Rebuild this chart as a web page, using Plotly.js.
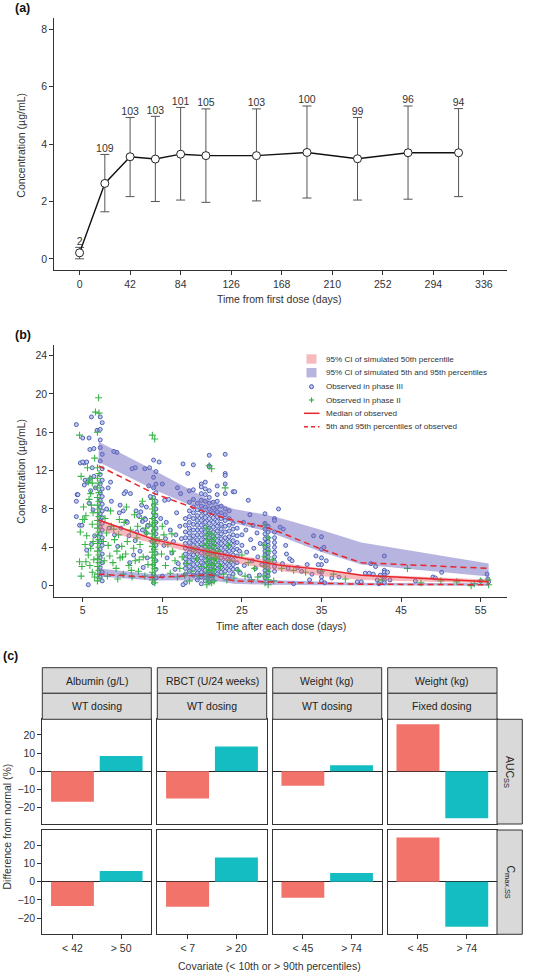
<!DOCTYPE html>
<html><head><meta charset="utf-8">
<script src="https://cdn.plot.ly/plotly-3.0.1.min.js"></script>
<style>html,body{margin:0;padding:0;background:#fff}#chart{width:540px;height:972px}</style>
</head><body><div id="chart"></div>
<script>
// ---------- Panel (a): trough concentration over time ----------
const visitDays = [0,21,42,63,84,105,147,189,231,273,315];
const meanConc  = [0.21,2.63,3.56,3.48,3.65,3.60,3.60,3.71,3.49,3.70,3.70];
const lowerConc = [0.00,1.64,2.17,2.00,2.05,1.97,2.02,2.12,2.05,2.08,2.17];
const upperConc = [0.40,3.64,4.93,4.97,5.28,5.23,5.23,5.33,4.93,5.33,5.24];
const nSubjects = [2,109,103,103,101,105,103,100,99,96,94];
const dayTicksA = [0,42,84,126,168,210,252,294,336];
const concTicksA = [0,2,4,6,8];

// ---------- Panel (b): VPC ----------
const bandDays   = [7,14,21,24,28,30,35,40,56];
const sim95Hi    = [15.0,12.0,8.9,8.0,7.4,7.0,5.8,4.5,2.3];
const sim95Lo    = [12.9,10.0,7.5,6.5,5.7,5.1,3.5,2.2,0.95];
const sim50Hi    = [6.9,5.0,3.8,3.2,2.7,2.4,1.8,1.2,0.65];
const sim50Lo    = [5.8,4.4,3.0,2.4,1.8,1.5,1.0,0.6,0.25];
const sim5Hi     = [1.8,1.2,1.4,0.8,0.6,0.55,0.4,0.3,0.25];
const sim5Lo     = [0.95,0.55,0.6,0.2,0.1,0.08,0.05,0.02,0.0];
const obsMedian  = [6.85,4.8,3.5,3.0,2.4,2.1,1.7,1.1,0.4];
const obsP95     = [12.5,9.6,7.5,6.8,6.1,5.5,3.8,2.4,1.8];
const obsP5      = [1.2,0.85,1.15,0.5,0.4,0.35,0.2,0.15,0.1];
const dayTicksB  = [5,15,25,35,45,55];
const concTicksB = [0,4,8,12,16,20,24];

// observed phase III: vertical sampling columns [day, [concentrations]]
const phase3Columns = [
 [7.2,[17.6,16.3,15.2,14.4,13.0,11.6,10.6,9.7,8.9,8.2,7.5,6.8,6.1,5.4,4.6,3.8,2.9,1.9,0.9]],
 [7.45,[17.0,13.7,12.2,11.0,10.1,9.3,8.5,7.8,7.1,6.5,5.8,5.0,4.2,3.3,2.4,1.4,0.5]],
 [13.9,[13.1,11.3,10.2,9.2,8.4,7.6,7.0,6.3,5.7,5.1,4.5,3.8,3.0,2.2,1.2,0.3]],
 [14.2,[11.9,10.6,9.7,8.8,8.0,7.3,6.6,6.0,5.4,4.8,4.2,3.4,2.6,1.7,0.8]],
 [17.9,[7.0,6.3,5.6,5.0,4.4,3.9,3.3,2.8,2.3,1.8,1.2,0.3]],
 [18.4,[9.9,8.7,7.8,7.2,6.6,6.0,5.5,5.0,4.5,4.0,3.5,3.0,2.5,2.0,1.5]],
 [18.9,[12.6,10.0,9.0,8.2,7.6,7.0,6.4,5.8,5.2,4.7,4.2,3.7,3.2,2.7,2.2,1.7,1.1]],
 [19.4,[8.6,7.9,7.3,6.8,6.3,5.8,5.3,4.8,4.3,3.8,3.3,2.8,2.3,1.8,1.3,0.6]],
 [19.9,[10.6,10.3,9.6,8.9,8.3,7.8,7.3,6.8,6.3,5.8,5.3,4.8,4.3,3.9,3.4,2.9,2.4,1.9,1.4,0.9,0.2]],
 [20.4,[10.8,10.1,9.5,8.8,8.2,7.6,7.1,6.6,6.1,5.6,5.1,4.6,4.1,3.6,3.1,2.6,2.1,1.6,1.1,0.5]],
 [20.9,[13.6,12.5,12.4,9.9,9.2,8.6,8.0,7.5,7.0,6.5,6.0,5.5,5.0,4.5,4.0,3.5,3.0,2.5,2.0,1.5,1.0,0.4]],
 [21.4,[8.7,8.1,7.6,7.1,6.6,6.1,5.6,5.1,4.6,4.1,3.6,3.1,2.6,2.1,1.6,1.1,0.5]],
 [21.9,[10.4,9.5,8.8,8.2,7.7,7.2,6.7,6.2,5.7,5.2,4.7,4.2,3.7,3.2,2.7,2.2,1.7,1.2]],
 [22.4,[8.3,7.6,7.0,6.4,5.9,5.4,4.9,4.4,3.9,3.4,2.9,2.4,1.9,1.4]],
 [22.9,[13.7,11.7,11.5,10.6,9.6,8.0,7.4,6.8,6.2,5.6,5.0,4.5,4.0,3.5,3.0,2.5,2.0,1.5]],
 [23.4,[7.8,7.0,6.3,5.7,5.1,4.6,4.1,3.6,3.1,2.6,2.1,1.6,1.0]],
 [23.9,[9.8,6.5,5.9,5.3,4.7,4.2,3.7,3.2,2.7,2.2,1.7,1.2]],
 [24.4,[6.0,5.2,4.5,3.8,3.1,2.4,1.7]],
 [27.9,[7.5,6.5,5.9,5.4,4.9,4.4,4.0,3.6,3.2,2.8,2.4,2.0,1.6,1.2,0.8]],
 [28.3,[6.2,5.6,5.0,4.6,4.2,3.8,3.4,3.0,2.6,2.2,1.8,1.4,1.0]],
 [29.1,[7.0,6.8,5.6,5.0,4.5,4.0,3.5,3.0,2.5,2.0,1.5]],
 [35.0,[5.1,3.8,2.9,2.2,1.4,0.9,0.5]],
 [42.9,[3.1,1.6,1.4,1.1,0.9,0.6,0.3]]
];
// observed phase III: scattered samples [day, concentration]
const phase3Scatter = [
 [4.2,16.8],[4.7,12.8],[5.2,12.8],[4.2,8.8],[4.3,9.5],[4.2,7.2],[5.7,0.1],[5.0,15.4],[5.8,15.4],[5.9,14.2],
 [6.1,17.6],[6.4,14.3],[5.5,12.9],[5.0,12.9],[4.4,9.5],[4.6,6.3],[5.2,10.5],[6.0,11.2],[5.3,11.0],[5.6,10.8],
 [6.0,9.9],[6.2,12.3],[6.4,11.4],[5.8,8.6],[6.3,7.9],[4.9,6.3],[6.5,5.2],[6.1,4.3],[5.5,3.7],[6.6,10.2],[6.8,16.2],
 [9.3,13.9],[11.6,12.3],[13.4,12.3],[10.4,9.8],[12.4,8.4],[12.3,7.7],[12.8,7.0],[10.1,7.8],[10.5,6.7],[11.7,7.8],
 [11.8,5.6],[12.5,6.7],[13.2,6.3],[13.0,5.5],[13.7,4.6],[9.7,8.4],[8.2,10.2],[8.6,8.8],[8.9,14.0],[9.6,7.6],
 [8.5,10.8],[10.2,9.6],[11.2,12.2],[12.8,12.2],[13.3,10.4],[12.0,7.3],[11.0,9.6],[10.6,6.6],[9.0,5.3],[11.6,4.7],
 [12.5,5.8],[13.0,8.2],[12.2,3.6],[9.8,6.0],[10.8,5.2],[8.3,6.0],[13.5,9.3],[12.9,6.9],[11.4,3.2],[10.9,2.4],
 [13.1,2.9],[12.6,1.9],[9.4,4.1],[8.0,8.0],
 [15.0,10.6],[15.3,8.9],[14.8,7.0],[15.5,6.6],[16.0,5.8],[15.2,4.2],[16.4,4.6],[16.8,7.6],[17.2,6.2],[16.2,3.4],
 [15.6,2.9],[17.0,2.3],[17.4,4.9],[16.6,1.7],[15.0,1.0],[17.3,9.6],[15.8,9.0],[16.9,10.2],[17.6,12.7],[18.2,11.7],
 [14.6,12.9],[15.4,4.9],[16.7,5.3],[17.6,0.1],
 [25.2,6.6],[25.5,5.8],[25.0,4.2],[25.6,3.5],[25.8,8.9],[26.1,4.8],[26.3,2.6],[26.5,3.9],[26.7,1.8],[26.9,5.5],
 [27.0,3.0],[25.3,2.1],[27.3,4.4],[26.0,7.4],[24.8,1.3],[27.5,2.2],[25.9,1.0],[24.1,9.8],[25.0,5.3],[26.4,6.3],
 [27.2,1.1],[24.7,3.6],
 [29.6,8.0],[30.2,5.9],[30.5,4.2],[30.6,3.3],[31.0,2.8],[31.3,2.6],[30.8,1.8],[31.5,0.2],[32.5,1.5],[33.2,2.2],
 [33.8,1.2],[34.0,5.2],[34.3,3.1],[34.6,2.2],[34.7,1.5],[35.3,4.0],[35.6,2.6],[35.4,0.3],[29.8,6.1],[30.1,2.3],
 [32.0,1.9],[33.5,0.6],
 [37.2,0.9],[36.3,0.8],[38.5,1.6],[39.5,0.4],[40.5,1.3],[41.0,1.3],[41.5,1.2],[41.8,2.0],[42.0,0.6],[42.4,1.1],
 [42.2,0.2],[41.2,2.3],[43.6,0.6],[43.3,1.4],[49.0,0.9],[49.3,0.8],[50.1,1.4],[55.0,0.5],[55.8,1.2],[56.0,0.4],
 [55.9,0.7],[46.8,0.5],[40.0,0.4]
];
// observed phase II: vertical sampling columns
const phase2Columns = [
 [6.85,[16.0,12.3,11.2,10.2,9.2,8.4,7.6,6.8,6.0,5.2,4.4,3.6,2.8,2.0,1.2,0.5]],
 [7.05,[18.0,11.7,10.7,9.7,8.8,8.0,7.2,6.4,5.6,4.8,4.0,3.2,2.4,1.6,0.8]],
 [13.75,[15.7,9.0,8.0,7.0,6.2,5.4,4.7,4.1,3.5,2.9,2.2,1.4,0.6]],
 [14.05,[15.3,8.5,7.5,6.6,5.8,5.0,4.4,3.8,3.2,2.6,1.8,1.0,0.3]],
 [20.6,[6.0,5.2,4.4,3.7,3.1,2.5,1.9,1.3,0.7,0.1]],
 [20.9,[12.5,5.6,4.8,4.0,3.4,2.8,2.2,1.6,1.0,0.4]],
 [21.2,[12.2,5.4,4.6,3.9,3.3,2.7,2.1,1.5,0.9,0.3]],
 [21.5,[5.0,4.2,3.5,2.9,2.3,1.7,1.1,0.5]],
 [27.9,[6.3,4.2,3.0,2.0,1.0,0.3]],
 [28.3,[5.0,3.6,2.5,1.5,0.6,0.1]]
];
// observed phase II: scattered samples
const phase2Scatter = [
 [4.6,15.7],[7.0,19.6],[6.6,18.1],[4.8,11.4],[4.7,5.6],[5.0,6.9],[5.2,6.9],[4.9,2.0],[4.8,1.0],[4.6,2.5],
 [5.6,12.3],[5.9,11.2],[5.7,10.8],[6.0,9.6],[5.8,9.0],[6.1,8.4],[6.3,7.6],[5.4,7.3],[6.2,6.4],[5.5,5.2],
 [6.3,4.6],[6.0,3.9],[5.7,3.2],[6.4,2.7],[5.9,2.1],[6.2,1.4],[5.4,2.5],[6.5,0.9],[5.1,8.2],[6.5,13.3],[6.2,10.7],[5.3,4.3],
 [7.8,7.0],[8.0,5.5],[8.2,4.2],[8.4,3.1],[8.6,6.2],[8.8,2.4],[9.0,4.8],[9.2,1.8],[9.3,3.6],[9.5,5.3],
 [9.7,2.9],[9.9,4.1],[10.1,1.2],[10.2,6.6],[10.4,3.3],[10.6,4.6],[10.8,2.1],[11.0,5.8],[11.2,0.9],[11.4,3.9],
 [11.6,2.6],[11.8,5.0],[12.0,1.5],[12.2,4.3],[12.4,7.0],[12.6,3.0],[12.8,1.0],[13.0,5.5],[13.2,2.2],[13.4,6.4],
 [8.1,1.0],[8.5,7.8],[9.4,0.7],[10.5,8.2],[11.5,7.4],[12.5,8.8],[12.9,6.0],[7.7,2.6],[9.6,6.9],[11.1,1.6],
 [11.9,6.2],[7.6,4.6],[8.9,5.9],[10.0,3.0],[12.1,2.7],
 [14.6,4.8],[14.9,3.3],[15.2,5.3],[15.4,2.1],[15.7,4.3],[16.0,1.3],[16.3,3.6],[16.6,2.6],[16.9,0.9],[17.2,1.8],
 [17.5,3.0],[17.8,1.1],[18.1,2.3],[18.4,0.5],[18.7,1.5],[19.0,3.8],[19.3,2.8],[19.6,1.0],[15.0,6.2],[16.2,5.4],
 [19.9,2.0],[20.2,4.2],
 [22.3,2.0],[22.7,1.2],[23.1,0.6],[23.5,2.6],[24.0,0.8],[24.5,1.6],[25.0,3.2],[25.4,1.0],[25.8,2.4],[26.2,0.6],
 [26.6,1.8],[27.0,0.9],[22.9,10.2],[23.3,4.2],[22.0,3.6],[21.8,2.8],
 [30.0,1.8],[31.5,1.6],[33.0,1.4],[35.0,1.5],[36.5,1.2],[38.0,0.7],[45.8,1.8],[50.0,0.5],[52.0,0.4],[53.8,0.0],
 [54.2,0.2],[55.0,0.5],[55.9,0.6],[56.0,0.1],[42.5,0.6],[47.5,0.3],[29.0,0.5],[28.8,2.7]
];
const legendLabelsB = ['95% CI of simulated 50th percentile','95% CI of simulated 5th and 95th percentiles',
  'Observed in phase III','Observed in phase II','Median of observed','5th and 95th percentiles of observed'];

// ---------- Panel (c): covariate effects ----------
const covariateGroups = ['Albumin (g/L)','RBCT (U/24 weeks)','Weight (kg)','Weight (kg)'];
const dosingLabels = ['WT dosing','WT dosing','WT dosing','Fixed dosing'];
const covariateCats = [['&lt; 42','&gt; 50'],['&lt; 7','&gt; 20'],['&lt; 45','&gt; 74'],['&lt; 45','&gt; 74']];
const aucDiff  = [[-16.7,8.4],[-15.0,13.6],[-7.9,3.3],[25.9,-25.9]];
const cmaxDiff = [[-13.4,5.9],[-13.8,13.4],[-8.8,4.8],[24.4,-24.8]];
const metricLabels = ['AUC<sub>SS</sub>','C<sub>max,SS</sub>'];
const diffTicks = [-20,-10,0,10,20];

// ---------- layout helpers ----------
const F = 'Liberation Sans, Arial, Helvetica, sans-serif';
const W = 540, H = 972;
const xp = px => px / W;
const yp = py => 1 - py / H;
const TXT = '#333';
const tickFont = {family: F, size: 10.5, color: TXT};
const RED = '#E8262B';
const PURPLE = 'rgba(112,106,192,0.5)';
const PINK = 'rgba(236,100,108,0.45)';

const traces = [];
const annotations = [];
const shapes = [];

// Panel (a)
traces.push({
  type:'scatter', mode:'lines+markers', x:visitDays, y:meanConc, xaxis:'x', yaxis:'y',
  line:{color:'#111', width:1.4},
  marker:{size:8, color:'#fff', line:{color:'#222', width:1}},
  error_y:{type:'data', symmetric:false,
    array: upperConc.map((u,i)=>u-meanConc[i]),
    arrayminus: meanConc.map((m,i)=>m-lowerConc[i]),
    color:'#555', thickness:1, width:4.5},
  hoverinfo:'skip'
});
traces.push({
  type:'scatter', mode:'text', x:visitDays, y:upperConc, xaxis:'x', yaxis:'y',
  text:nSubjects.map(String), textposition:'top center',
  textfont:{family:F, size:10.5, color:TXT}, hoverinfo:'skip'
});

// Panel (b) points
function flatten(cols, pts){
  const xs=[], ys=[];
  cols.forEach(([x, vals]) => vals.forEach(v => {xs.push(x); ys.push(v);}));
  pts.forEach(([x,v]) => {xs.push(x); ys.push(v);});
  return [xs, ys];
}
const [p3x,p3y] = flatten(phase3Columns, phase3Scatter);
const [p2x,p2y] = flatten(phase2Columns, phase2Scatter);
traces.push({type:'scatter', mode:'markers', x:p3x, y:p3y, xaxis:'x2', yaxis:'y2',
  marker:{symbol:'circle', size:4, color:'rgba(196,203,240,1)', line:{color:'#4052AE', width:0.9}}, hoverinfo:'skip'});
traces.push({type:'scatter', mode:'markers', x:p2x, y:p2y, xaxis:'x2', yaxis:'y2',
  marker:{symbol:'cross-thin', size:5, color:'#39B54A', line:{color:'#39B54A', width:1.1}}, hoverinfo:'skip'});
// bands
function band(hi, lo, color){
  return {type:'scatter', mode:'lines', xaxis:'x2', yaxis:'y2', fill:'toself', fillcolor:color,
    line:{width:0, color:color},
    x: bandDays.concat(bandDays.slice().reverse()),
    y: hi.concat(lo.slice().reverse()), hoverinfo:'skip'};
}
traces.push(band(sim95Hi, sim95Lo, PURPLE));
traces.push(band(sim5Hi, sim5Lo, PURPLE));
traces.push(band(sim50Hi, sim50Lo, PINK));
traces.push({type:'scatter', mode:'lines', x:bandDays, y:obsMedian, xaxis:'x2', yaxis:'y2',
  line:{color:RED, width:1.5}, hoverinfo:'skip'});
traces.push({type:'scatter', mode:'lines', x:bandDays, y:obsP95, xaxis:'x2', yaxis:'y2',
  line:{color:RED, width:1.5, dash:'6px,4px'}, hoverinfo:'skip'});
traces.push({type:'scatter', mode:'lines', x:bandDays, y:obsP5, xaxis:'x2', yaxis:'y2',
  line:{color:RED, width:1.5, dash:'6px,4px'}, hoverinfo:'skip'});

// Legend for (b), drawn manually
const legRows = [359, 372.7, 386.7, 400, 413.3, 426.7];
const legX = 311.5;
shapes.push({type:'rect', xref:'paper', yref:'paper', x0:xp(306.5), x1:xp(316.5), y0:yp(363.7), y1:yp(354.3),
  fillcolor:PINK, line:{width:0}});
shapes.push({type:'rect', xref:'paper', yref:'paper', x0:xp(306.5), x1:xp(316.5), y0:yp(377.4), y1:yp(368),
  fillcolor:PURPLE, line:{width:0}});
shapes.push({type:'circle', xref:'paper', yref:'paper', x0:xp(legX-2), x1:xp(legX+2), y0:yp(legRows[2]+2), y1:yp(legRows[2]-2),
  fillcolor:'rgba(196,203,240,1)', line:{color:'#4052AE', width:1}});
shapes.push({type:'line', xref:'paper', yref:'paper', x0:xp(legX-2.6), x1:xp(legX+2.6), y0:yp(legRows[3]), y1:yp(legRows[3]),
  line:{color:'#39B54A', width:1.2}});
shapes.push({type:'line', xref:'paper', yref:'paper', x0:xp(legX), x1:xp(legX), y0:yp(legRows[3]-2.6), y1:yp(legRows[3]+2.6),
  line:{color:'#39B54A', width:1.2}});
shapes.push({type:'line', xref:'paper', yref:'paper', x0:xp(304), x1:xp(319.5), y0:yp(legRows[4]), y1:yp(legRows[4]),
  line:{color:RED, width:1.5}});
shapes.push({type:'line', xref:'paper', yref:'paper', x0:xp(304), x1:xp(319.5), y0:yp(legRows[5]), y1:yp(legRows[5]),
  line:{color:RED, width:1.5, dash:'4px,3px'}});
legendLabelsB.forEach((t,i)=>annotations.push({xref:'paper', yref:'paper', x:xp(324), y:yp(legRows[i]),
  xanchor:'left', yanchor:'middle', showarrow:false, text:t, font:{family:F, size:8.1, color:TXT}}));

// Panel (c)
const colX = [[42.3,151.3],[157.3,266.7],[272.7,381.7],[387.7,497]];
const rowY = [[719.3,824],[830,934.3]];
const layoutAxes = {};
[aucDiff, cmaxDiff].forEach((vals, r) => {
  vals.forEach((pair, c) => {
    const n = 3 + r*4 + c;
    traces.push({type:'bar', x:covariateCats[c], y:pair, xaxis:'x'+n, yaxis:'y'+n, width:0.88,
      marker:{color:['#F1736A','#14BDC1'], line:{width:0}}, hoverinfo:'skip'});
    layoutAxes['xaxis'+n] = {domain:[xp(colX[c][0]), xp(colX[c][1])], anchor:'y'+n, type:'category',
      range:[-0.62,1.62], showline:true, mirror:true, linecolor:'#333', linewidth:1, showgrid:false, zeroline:false,
      ticks: r===1 ? 'outside' : '', ticklen:4, tickcolor:'#333', showticklabels: r===1, tickfont:tickFont, fixedrange:true};
    layoutAxes['yaxis'+n] = {domain:[yp(rowY[r][1]), yp(rowY[r][0])], anchor:'x'+n,
      range:[-29,28.6], showline:true, mirror:true, linecolor:'#333', linewidth:1, showgrid:false,
      zeroline:true, zerolinecolor:'#222', zerolinewidth:1, tickvals:diffTicks,
      ticks: c===0 ? 'outside' : '', ticklen:4, tickcolor:'#333', showticklabels: c===0, tickfont:tickFont, fixedrange:true};
  });
});
// strips
colX.forEach(([x0,x1], c) => {
  shapes.push({type:'rect', xref:'paper', yref:'paper', x0:xp(x0), x1:xp(x1), y0:yp(693.3), y1:yp(667.7),
    fillcolor:'#D9D9D9', line:{color:'#333', width:1}});
  shapes.push({type:'rect', xref:'paper', yref:'paper', x0:xp(x0), x1:xp(x1), y0:yp(719.3), y1:yp(693.3),
    fillcolor:'#D9D9D9', line:{color:'#333', width:1}});
  annotations.push({xref:'paper', yref:'paper', x:xp((x0+x1)/2), y:yp(680.5), xanchor:'center', yanchor:'middle',
    showarrow:false, text:covariateGroups[c], font:{family:F, size:10.5, color:'#222'}});
  annotations.push({xref:'paper', yref:'paper', x:xp((x0+x1)/2), y:yp(706.3), xanchor:'center', yanchor:'middle',
    showarrow:false, text:dosingLabels[c], font:{family:F, size:10.5, color:'#222'}});
});
rowY.forEach(([y0,y1], r) => {
  shapes.push({type:'rect', xref:'paper', yref:'paper', x0:xp(497), x1:xp(522.3), y0:yp(y1), y1:yp(y0),
    fillcolor:'#D9D9D9', line:{color:'#333', width:1}});
  annotations.push({xref:'paper', yref:'paper', x:xp(509.7), y:yp((y0+y1)/2), xanchor:'center', yanchor:'middle',
    showarrow:false, textangle:90, text:metricLabels[r], font:{family:F, size:10.5, color:'#222'}});
});

// Axis titles and panel letters
const titleFont = {family:F, size:10.5, color:TXT};
[
  {x:279, y:299.3, text:'Time from first dose (days)'},
  {x:20.7, y:145, text:'Concentration (µg/mL)', textangle:-90},
  {x:281, y:626, text:'Time after each dose (days)'},
  {x:20.7, y:471, text:'Concentration (µg/mL)', textangle:-90},
  {x:269, y:965.5, text:'Covariate (&lt; 10th or &gt; 90th percentiles)'},
  {x:6.5, y:827, text:'Difference from normal (%)', textangle:-90}
].forEach(a => annotations.push({xref:'paper', yref:'paper', x:xp(a.x), y:yp(a.y), xanchor:'center', yanchor:'middle',
  showarrow:false, text:a.text, textangle:a.textangle||0, font:titleFont}));
[
  {x:12.5, y:8, t:'(a)'}, {x:12.5, y:335, t:'(b)'}, {x:0.5, y:656, t:'(c)'}
].forEach(a => annotations.push({xref:'paper', yref:'paper', x:xp(a.x), y:yp(a.y), xanchor:'left', yanchor:'middle',
  showarrow:false, text:'<b>'+a.t+'</b>', font:{family:F, size:12.5, color:'#111'}}));

const baseAxis = {showline:true, linecolor:'#333', linewidth:1, showgrid:false, zeroline:false,
  ticks:'outside', ticklen:4, tickcolor:'#333', tickfont:tickFont, fixedrange:true};

const layout = Object.assign({
  width:W, height:H, margin:{l:0,r:0,t:0,b:0}, paper_bgcolor:'#fff', plot_bgcolor:'#fff',
  showlegend:false, font:{family:F, size:10.5, color:TXT},
  xaxis: Object.assign({}, baseAxis, {domain:[xp(54.3), xp(506.7)], anchor:'y', range:[-21,355], tickvals:dayTicksA}),
  yaxis: Object.assign({}, baseAxis, {domain:[yp(270), yp(18)], anchor:'x', range:[-0.39,8.4], tickvals:concTicksA}),
  xaxis2: Object.assign({}, baseAxis, {domain:[xp(54.3), xp(506.7)], anchor:'y2', range:[1.43,58.27], tickvals:dayTicksB}),
  yaxis2: Object.assign({}, baseAxis, {domain:[yp(596.7), yp(345)], anchor:'x2', range:[-1.15,25.1], tickvals:concTicksB}),
  shapes: shapes, annotations: annotations
}, layoutAxes);

Plotly.newPlot('chart', traces, layout, {staticPlot:true, displayModeBar:false});
</script>
</body></html>
